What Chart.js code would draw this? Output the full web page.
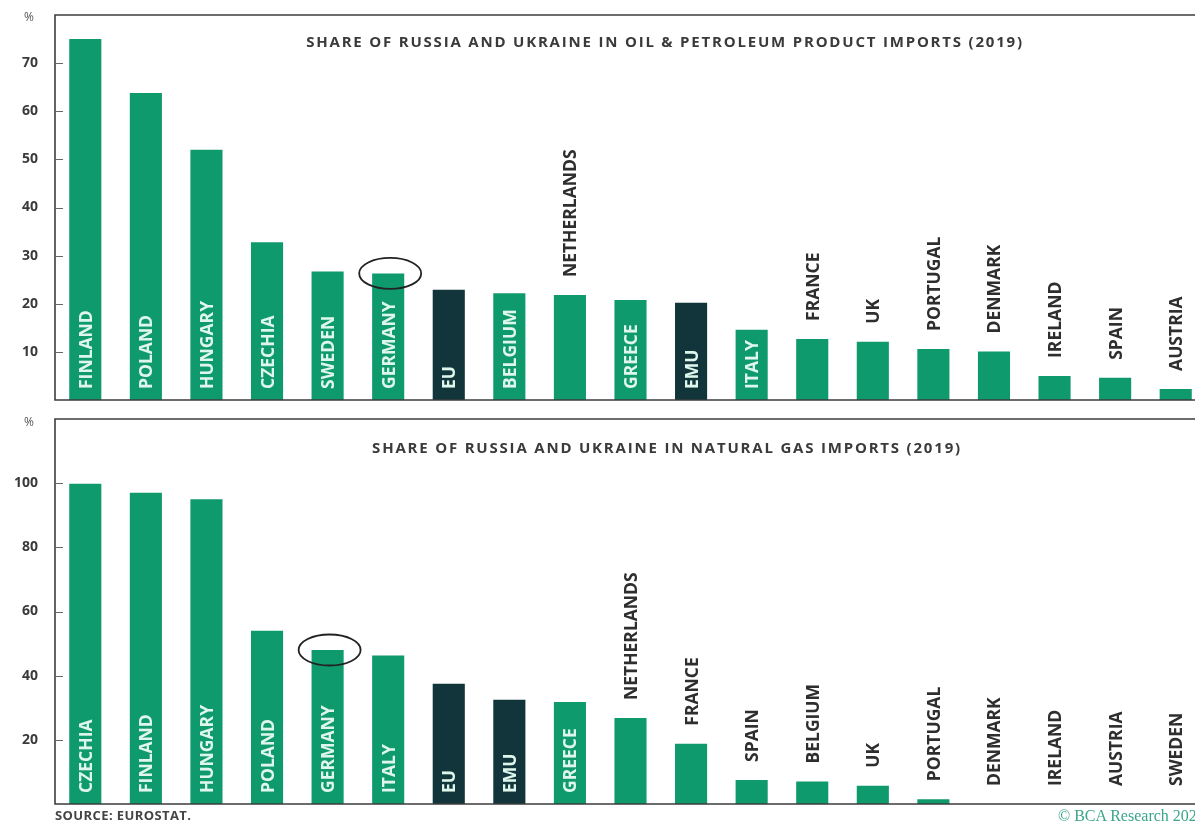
<!DOCTYPE html>
<html>
<head>
<meta charset="utf-8">
<script src="https://cdn.jsdelivr.net/npm/chart.js@4.4.1/dist/chart.umd.min.js"></script>
<style>
  html, body { margin: 0; padding: 0; background: #fff; overflow: hidden; }
  body { width: 1195px; height: 827px; position: relative; font-family: "Open Sans", sans-serif; }
  .panel { position: absolute; left: 0; width: 1206px; height: 410px; }
  #oilPanel { top: 0; }
  #gasPanel { top: 404px; }
  .title {
    position: absolute; transform: translateX(-50%); white-space: nowrap;
    font-family: "Open Sans", sans-serif; font-weight: 700; font-size: 15px;
    letter-spacing: 1.8px; color: #3a3a3a;
  }
  .unit { position: absolute; font-family: "Open Sans", sans-serif; font-size: 12px; color: #555; }
  #source { position: absolute; left: 55px; top: 806px; font-family: "Open Sans", sans-serif;
    font-weight: 700; font-size: 13px; letter-spacing: 0.4px; color: #444; }
  #credit { position: absolute; left: 1058px; top: 807px; font-family: "Liberation Serif", serif;
    font-size: 16px; color: #3aa58a; white-space: nowrap; }
</style>
</head>
<body>
<div class="panel" id="oilPanel"><canvas id="oilChart"></canvas></div>
<div class="panel" id="gasPanel"><canvas id="gasChart"></canvas></div>

<div class="title" style="left:665px; top:31px;">SHARE OF RUSSIA AND UKRAINE IN OIL &amp; PETROLEUM PRODUCT IMPORTS (2019)</div>
<div class="title" style="left:667px; top:437px;">SHARE OF RUSSIA AND UKRAINE IN NATURAL GAS IMPORTS (2019)</div>
<div class="unit" style="left:24px; top:8px;">%</div>
<div class="unit" style="left:24px; top:413px;">%</div>
<div id="source">SOURCE: EUROSTAT.</div>
<div id="credit">© BCA Research 2022</div>

<script>
// Share of Russia and Ukraine in imports, 2019 (%)
const oilCountries = ['FINLAND', 'POLAND', 'HUNGARY', 'CZECHIA', 'SWEDEN', 'GERMANY', 'EU', 'BELGIUM',
  'NETHERLANDS', 'GREECE', 'EMU', 'ITALY', 'FRANCE', 'UK', 'PORTUGAL', 'DENMARK', 'IRELAND', 'SPAIN', 'AUSTRIA'];
const oilShare = [75, 63.8, 52, 32.8, 26.7, 26.3, 22.9, 22.2, 21.8, 20.8, 20.2, 14.6, 12.7, 12.1, 10.6, 10.1, 5.0, 4.6, 2.3];

const gasCountries = ['CZECHIA', 'FINLAND', 'HUNGARY', 'POLAND', 'GERMANY', 'ITALY', 'EU', 'EMU', 'GREECE',
  'NETHERLANDS', 'FRANCE', 'SPAIN', 'BELGIUM', 'UK', 'PORTUGAL', 'DENMARK', 'IRELAND', 'AUSTRIA', 'SWEDEN'];
const gasShare = [99.8, 97, 95, 54, 48, 46.3, 37.5, 32.5, 31.8, 26.8, 18.8, 7.5, 7, 5.7, 1.5, 0, 0, 0, 0];

const oilAxis = { max: 80, step: 10 };
const gasAxis = { max: 120, step: 20 };

const aggregates = ['EU', 'EMU'];
const highlighted = 'GERMANY';

const GREEN = '#0f9a6d';
const DARK = '#11353a';
const FRAME = '#3d3d3d';
const LABEL_FONT = '700 17.5px "Open Sans", sans-serif';

// plot frame: left, top and bottom edges of the chart area
const framePlugin = {
  id: 'frame',
  afterDatasetsDraw(chart) {
    const { ctx, chartArea: a } = chart;
    ctx.save();
    ctx.strokeStyle = FRAME;
    ctx.lineWidth = 1.6;
    ctx.beginPath();
    ctx.moveTo(a.right + 20, a.top);
    ctx.lineTo(a.left, a.top);
    ctx.lineTo(a.left, a.bottom);
    ctx.lineTo(a.right + 20, a.bottom);
    ctx.stroke();
    ctx.restore();
  }
};

// short tick marks pointing into the plot
const innerTicksPlugin = {
  id: 'innerTicks',
  afterDatasetsDraw(chart) {
    const { ctx } = chart;
    const s = chart.scales.y;
    ctx.save();
    ctx.strokeStyle = '#666';
    ctx.lineWidth = 1;
    s.ticks.forEach((t, i) => {
      if (t.value === 0 || t.value === s.max) return;
      const y = Math.round(s.getPixelForTick(i)) + 0.5;
      ctx.beginPath();
      ctx.moveTo(s.right, y);
      ctx.lineTo(s.right + 8, y);
      ctx.stroke();
    });
    ctx.restore();
  }
};

// country names written vertically, inside tall bars or above short ones
const barNamesPlugin = {
  id: 'barNames',
  afterDatasetsDraw(chart) {
    const { ctx } = chart;
    const meta = chart.getDatasetMeta(0);
    const names = chart.data.labels;
    ctx.save();
    ctx.font = LABEL_FONT;
    ctx.textBaseline = 'middle';
    ctx.textAlign = 'left';
    meta.data.forEach((bar, i) => {
      const name = names[i];
      const w = ctx.measureText(name).width;
      const h = bar.base - bar.y;
      const inside = h >= 65 && w + 16 <= h;
      const start = inside ? bar.base - 11 : bar.y - 18;
      ctx.save();
      ctx.translate(bar.x + 0.5, start);
      ctx.rotate(-Math.PI / 2);
      ctx.fillStyle = inside ? '#dff6ec' : '#2e2e2e';
      ctx.fillText(name, 0, 1);
      ctx.restore();
    });
    ctx.restore();
  }
};

// ring drawn around the top of the highlighted bar
const ringPlugin = {
  id: 'ring',
  afterDatasetsDraw(chart) {
    const idx = chart.data.labels.indexOf(highlighted);
    if (idx < 0) return;
    const bar = chart.getDatasetMeta(0).data[idx];
    const { ctx } = chart;
    ctx.save();
    ctx.strokeStyle = '#222';
    ctx.lineWidth = 1.8;
    ctx.beginPath();
    ctx.ellipse(bar.x + 2, bar.y, 31, 15.5, 0, 0, Math.PI * 2);
    ctx.stroke();
    ctx.restore();
  }
};

function makeChart(id, labels, values, axis, pad) {
  return new Chart(document.getElementById(id), {
    type: 'bar',
    data: {
      labels: labels,
      datasets: [{
        data: values,
        backgroundColor: labels.map(c => aggregates.includes(c) ? DARK : GREEN),
        borderWidth: 0,
        barPercentage: 0.53,
        categoryPercentage: 1
      }]
    },
    options: {
      responsive: true,
      maintainAspectRatio: false,
      animation: false,
      layout: { padding: { top: pad.top, bottom: pad.bottom, left: 0, right: 0 } },
      plugins: { legend: { display: false }, tooltip: { enabled: false }, title: { display: false } },
      scales: {
        x: {
          display: false,
          grid: { display: false, drawTicks: false },
          ticks: { display: false }
        },
        y: {
          min: 0,
          max: axis.max,
          afterFit(scale) {
            scale.width = 55;
            scale.paddingTop = 0;
            scale.paddingBottom = 0;
          },
          grid: { display: false, drawTicks: false },
          border: { display: false },
          ticks: {
            stepSize: axis.step,
            padding: 17,
            color: '#3a3a3a',
            font: { family: '"Open Sans", sans-serif', weight: 'bold', size: 14 },
            callback(v) { return (v === 0 || v === axis.max) ? '' : v; }
          }
        }
      }
    },
    plugins: [framePlugin, innerTicksPlugin, barNamesPlugin, ringPlugin]
  });
}

makeChart('oilChart', oilCountries, oilShare, oilAxis, { top: 15, bottom: 10 });
makeChart('gasChart', gasCountries, gasShare, gasAxis, { top: 15, bottom: 10 });
</script>
</body>
</html>
